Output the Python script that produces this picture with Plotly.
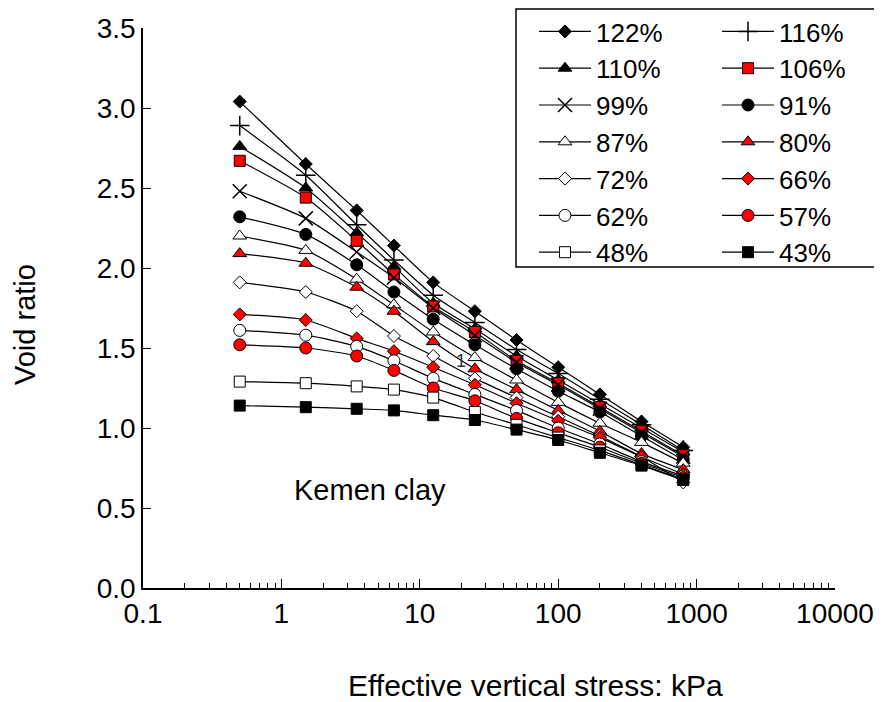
import plotly.graph_objects as go

stress = [0.5, 1.5, 3.5, 6.5, 12.5, 25, 50, 100, 200, 400, 800]

e122 = [3.04, 2.65, 2.36, 2.14, 1.91, 1.73, 1.55, 1.38, 1.21, 1.04, 0.88]
e116 = [2.89, 2.58, 2.27, 2.05, 1.83, 1.66, 1.49, 1.34, 1.18, 1.02, 0.86]
e110 = [2.76, 2.50, 2.22, 2.01, 1.78, 1.62, 1.45, 1.30, 1.15, 1.00, 0.85]
e106 = [2.67, 2.44, 2.17, 1.96, 1.76, 1.60, 1.42, 1.28, 1.13, 0.98, 0.83]
e99 = [2.48, 2.31, 2.10, 1.94, 1.75, 1.58, 1.41, 1.27, 1.12, 0.97, 0.82]
e91 = [2.32, 2.21, 2.02, 1.85, 1.68, 1.52, 1.37, 1.23, 1.10, 0.95, 0.80]
e87 = [2.20, 2.11, 1.93, 1.77, 1.60, 1.44, 1.30, 1.16, 1.03, 0.91, 0.78]
e80 = [2.09, 2.03, 1.88, 1.73, 1.54, 1.37, 1.24, 1.11, 0.98, 0.84, 0.74]
e72 = [1.91, 1.85, 1.73, 1.575, 1.45, 1.31, 1.19, 1.07, 0.95, 0.82, 0.66]
e66 = [1.71, 1.675, 1.56, 1.48, 1.38, 1.27, 1.155, 1.045, 0.94, 0.82, 0.71]
e62 = [1.61, 1.58, 1.51, 1.42, 1.31, 1.21, 1.11, 1.00, 0.90, 0.79, 0.70]
e57 = [1.52, 1.50, 1.45, 1.36, 1.25, 1.17, 1.06, 0.97, 0.88, 0.78, 0.69]
e48 = [1.29, 1.28, 1.26, 1.24, 1.19, 1.10, 1.02, 0.94, 0.86, 0.77, 0.68]
e43 = [1.14, 1.13, 1.12, 1.11, 1.08, 1.05, 0.99, 0.925, 0.845, 0.765, 0.675]

labels = ["122%", "116%", "110%", "106%", "99%", "91%", "87%", "80%",
          "72%", "66%", "62%", "57%", "48%", "43%"]
series = [e122, e116, e110, e106, e99, e91, e87, e80, e72, e66, e62, e57, e48, e43]

x_tickvals = [0.1, 1, 10, 100, 1000, 10000]
x_ticktext = ["0.1", "1", "10", "100", "1000", "10000"]
y_tickvals = [0.0, 0.5, 1.0, 1.5, 2.0, 2.5, 3.0, 3.5]

# (symbol, fill, size)
styles = [
    ("diamond", "black", 10),
    ("cross-thin", "black", 14),
    ("triangle-up", "black", 12),
    ("square", "red", 11),
    ("x-thin", "black", 14),
    ("circle", "black", 12),
    ("triangle-up", "white", 12),
    ("triangle-up", "red", 12),
    ("diamond", "white", 10),
    ("diamond", "red", 10),
    ("circle", "white", 12),
    ("circle", "red", 12),
    ("square", "white", 11),
    ("square", "black", 11),
]

FONT = "Liberation Sans, Arial, sans-serif"
fig = go.Figure()
for i, (lab, ys) in enumerate(zip(labels, series)):
    sym, fill, sz = styles[i]
    lw = 1.5 if "thin" in sym else 1
    fig.add_trace(go.Scatter(
        x=stress, y=ys, name=lab, mode="lines+markers",
        line=dict(color="black", width=1.2, shape="spline", smoothing=0.6),
        marker=dict(symbol=sym, size=sz, color=fill,
                    line=dict(color="black", width=lw)),
        legend="legend" if i % 2 == 0 else "legend2",
    ))

# The page body has an 8px margin; work in window pixels and convert.
OFF = 8
W, H = 882 - OFF, 702 - OFF
# plot area in window pixels: x 143..835, y 28..588
SX0, SX1, SY_TOP, SY_BOT = 143, 835, 28, 588
L = SX0 - OFF
B = H - (SY_BOT - OFF)
T, R = 0, 4
paper_w, paper_h = W - L - R, H - T - B

def px(xs):
    return (xs - OFF - L) / paper_w

def py(ys):
    return (H - B - (ys - OFF)) / paper_h

legend_common = dict(
    bgcolor="rgba(0,0,0,0)", borderwidth=0,
    font=dict(family=FONT, size=26, color="black"),
    xanchor="left", yanchor="top", tracegroupgap=0, itemwidth=52,
)

fig.update_layout(
    width=W, height=H,
    margin=dict(l=L, r=R, t=T, b=B, autoexpand=False),
    paper_bgcolor="white", plot_bgcolor="white",
    font=dict(family=FONT, size=28, color="black"),
    showlegend=True,
    legend=dict(x=px(534), y=1.0, **legend_common),
    legend2=dict(x=px(717), y=1.0, **legend_common),
    xaxis=dict(
        type="log", range=[-1, 4], domain=[0, px(SX1)],
        tickvals=x_tickvals, ticktext=x_ticktext,
        ticks="inside", ticklen=9, tickwidth=1, tickcolor="black",
        minor=dict(ticks="inside", ticklen=5, tickwidth=1, tickcolor="black",
                   dtick="D1", showgrid=False),
        showline=True, linecolor="black", linewidth=1.5,
        showgrid=False, zeroline=False, automargin=False,
        tickfont=dict(size=28),
    ),
    yaxis=dict(
        range=[0, 3.5], domain=[0, py(SY_TOP)],
        tickvals=y_tickvals, tickformat=".1f",
        ticks="inside", ticklen=8, tickwidth=1, tickcolor="black",
        showline=True, linecolor="black", linewidth=1.5,
        showgrid=False, zeroline=False, automargin=False,
        tickfont=dict(size=28),
    ),
    shapes=[dict(type="rect", xref="paper", yref="paper",
                 x0=px(516), x1=px(877), y0=py(267), y1=py(9),
                 line=dict(color="black", width=1.5), fillcolor="rgba(0,0,0,0)")],
    annotations=[
        dict(text="Effective vertical stress: kPa", xref="paper", yref="paper",
             x=px(535), y=py(685), xanchor="center", yanchor="middle",
             showarrow=False, font=dict(family=FONT, size=30, color="black")),
        dict(text="Void ratio", xref="paper", yref="paper", textangle=-90,
             x=px(25), y=py(325), xanchor="center", yanchor="middle",
             showarrow=False, font=dict(family=FONT, size=29, color="black")),
        dict(text="Kemen clay", xref="paper", yref="paper",
             x=px(370), y=py(490), xanchor="center", yanchor="middle",
             showarrow=False, font=dict(family=FONT, size=29, color="black")),
        dict(text="1", xref="paper", yref="paper",
             x=px(461), y=py(361), xanchor="center", yanchor="middle",
             showarrow=False, font=dict(family=FONT, size=18, color="#333333")),
    ],
)

fig.write_html("out.html")
